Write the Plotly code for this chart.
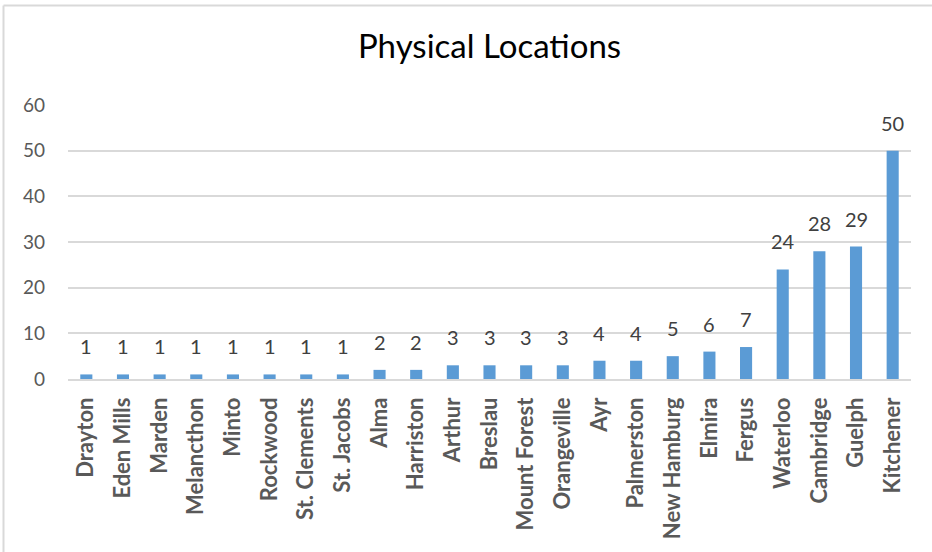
import plotly.graph_objects as go

categories = ["Drayton", "Eden Mills", "Marden", "Melancthon", "Minto", "Rockwood",
              "St. Clements", "St. Jacobs", "Alma", "Harriston", "Arthur", "Breslau",
              "Mount Forest", "Orangeville", "Ayr", "Palmerston", "New Hamburg",
              "Elmira", "Fergus", "Waterloo", "Cambridge", "Guelph", "Kitchener"]
counts = [1, 1, 1, 1, 1, 1, 1, 1, 2, 2, 3, 3, 3, 3, 4, 4, 5, 6, 7, 24, 28, 29, 50]
y_ticks = [0, 10, 20, 30, 40, 50, 60]

W, H = 932, 552
ml, mr, mt, mb = 68, 21, 105, 173
pw, ph = W - ml - mr, H - mt - mb
FONT = "Lato, Open Sans, sans-serif"

fig = go.Figure(go.Bar(
    x=categories, y=counts,
    marker=dict(color="#5B9BD5", line=dict(width=0)),
    hoverinfo="x+y",
))

annotations = [dict(x=c, y=v, xref="x", yref="y", text=str(v), showarrow=False,
                    yanchor="bottom", yshift=14,
                    font=dict(family=FONT, size=20, color="#404040"))
               for c, v in zip(categories, counts)]

fig.update_layout(
    width=W, height=H,
    margin=dict(l=ml, r=mr, t=mt, b=mb),
    paper_bgcolor="white", plot_bgcolor="white",
    bargap=0.67,
    showlegend=False,
    title=dict(text="Physical Locations", x=0.5, xref="paper", xanchor="center",
               y=1 - 46 / H, yanchor="middle",
               font=dict(family=FONT, size=33, color="#000000")),
    xaxis=dict(tickangle=-90, showgrid=False, showline=True, linecolor="#D9D9D9",
               linewidth=1.5, ticks="", automargin=False, ticklabelstandoff=8,
               tickfont=dict(family=FONT, size=22, color="#595959", weight="bold")),
    yaxis=dict(range=[0, 60], tickvals=y_ticks, showgrid=True, gridcolor="#D9D9D9",
               gridwidth=1.5, zeroline=False, showline=False, ticks="",
               automargin=False, ticklabelstandoff=22,
               tickfont=dict(family=FONT, size=19, color="#595959")),
    annotations=annotations,
    shapes=[
        dict(type="line", xref="paper", yref="paper",
             x0=(3.5 - ml) / pw, x1=(W + 5 - ml) / pw,
             y0=1 + (mt - 5.5) / ph, y1=1 + (mt - 5.5) / ph,
             line=dict(color="#D9D9D9", width=2)),
        dict(type="line", xref="paper", yref="paper",
             x0=(3.5 - ml) / pw, x1=(3.5 - ml) / pw,
             y0=-(H + 5 - (H - mb)) / ph, y1=1 + (mt - 5.5) / ph,
             line=dict(color="#D9D9D9", width=2)),
    ],
)

fig.write_html("out.html", config={"displayModeBar": False},
               post_script="document.body.style.margin='0';")
